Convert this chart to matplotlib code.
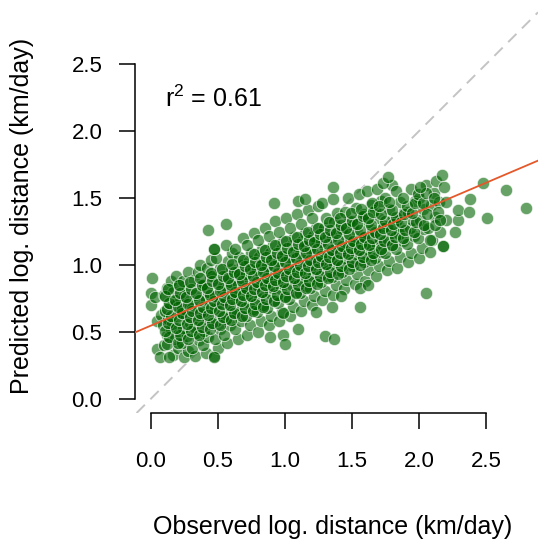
import numpy as np
import matplotlib
matplotlib.use('Agg')
import matplotlib.pyplot as plt

plt.rcParams['font.family'] = ['Liberation Sans', 'DejaVu Sans']

# observed vs predicted log distance in x bands
obs_low = [0.01, 0.00, 0.00, 0.03, 0.05, 0.05, 0.07, 0.08,
           0.10, 0.12, 0.09, 0.13, 0.11, 0.14, 0.10, 0.12, 0.15, 0.15,
           0.17, 0.20, 0.18, 0.21, 0.16, 0.19, 0.22, 0.18, 0.20, 0.17, 0.21, 0.19,
           0.25, 0.28, 0.23, 0.27, 0.24, 0.29, 0.26, 0.23, 0.28, 0.25, 0.27, 0.24, 0.28,
           0.33, 0.31, 0.36, 0.34, 0.32, 0.37, 0.35, 0.31, 0.36, 0.33, 0.38, 0.32, 0.35, 0.37,
           0.41, 0.39, 0.43, 0.40, 0.44, 0.42, 0.39, 0.45, 0.41, 0.43, 0.40, 0.44, 0.42, 0.45,
           0.47, 0.50, 0.48, 0.52, 0.49, 0.53, 0.47, 0.51, 0.48, 0.53, 0.50, 0.46, 0.52, 0.49, 0.47,
           0.57, 0.55, 0.59, 0.56, 0.60, 0.58, 0.55, 0.61, 0.57, 0.59, 0.56, 0.60, 0.58, 0.61, 0.56,
           0.65, 0.63, 0.67, 0.64, 0.68, 0.66, 0.63, 0.69, 0.65, 0.67, 0.64, 0.68, 0.66, 0.63, 0.69]
pred_low = [0.90, 0.79, 0.70, 0.76, 0.58, 0.37, 0.31, 0.63,
            0.40, 0.48, 0.55, 0.60, 0.66, 0.72, 0.78, 0.83, 0.88, 0.52,
            0.33, 0.38, 0.45, 0.50, 0.56, 0.61, 0.65, 0.70, 0.75, 0.80, 0.86, 0.92,
            0.31, 0.36, 0.42, 0.47, 0.53, 0.57, 0.62, 0.67, 0.72, 0.77, 0.82, 0.88, 0.95,
            0.32, 0.38, 0.44, 0.49, 0.54, 0.58, 0.63, 0.68, 0.73, 0.78, 0.84, 0.89, 0.95, 1.00,
            0.34, 0.40, 0.46, 0.51, 0.56, 0.61, 0.65, 0.70, 0.75, 0.80, 0.86, 0.92, 0.98, 1.04,
            0.32, 0.38, 0.45, 0.52, 0.58, 0.63, 0.67, 0.72, 0.77, 0.82, 0.87, 0.92, 0.98, 1.05, 1.12,
            0.42, 0.48, 0.55, 0.60, 0.65, 0.70, 0.74, 0.78, 0.83, 0.87, 0.92, 0.97, 1.03, 1.09, 1.15,
            0.45, 0.52, 0.58, 0.64, 0.69, 0.74, 0.78, 0.82, 0.86, 0.90, 0.95, 1.00, 1.06, 1.12, 1.20]

obs_mid = [0.72, 0.74, 0.71, 0.76, 0.73, 0.75, 0.72, 0.77, 0.74, 0.71, 0.76, 0.73, 0.75, 0.72, 0.77,
           0.80, 0.82, 0.79, 0.84, 0.81, 0.83, 0.80, 0.85, 0.82, 0.79, 0.84, 0.81, 0.83, 0.80, 0.85,
           0.88, 0.90, 0.87, 0.92, 0.89, 0.91, 0.88, 0.93, 0.90, 0.87, 0.92, 0.89, 0.91, 0.88, 0.93,
           0.96, 0.98, 0.95, 1.00, 0.97, 0.99, 0.96, 1.01, 0.98, 0.95, 1.00, 0.97, 0.99, 0.96, 1.01,
           1.04, 1.06, 1.03, 1.08, 1.05, 1.07, 1.04, 1.09, 1.06, 1.03, 1.08, 1.05, 1.07, 1.04, 1.09,
           1.12, 1.14, 1.11, 1.16, 1.13, 1.15, 1.12, 1.17, 1.14, 1.11, 1.16, 1.13, 1.15, 1.12, 1.17,
           1.20, 1.22, 1.19, 1.24, 1.21, 1.23, 1.20, 1.25, 1.22, 1.19, 1.24, 1.21, 1.23, 1.20, 1.25,
           1.28, 1.30, 1.27, 1.32, 1.29, 1.31, 1.28, 1.33, 1.30, 1.27, 1.32, 1.29, 1.31, 1.28]
pred_mid = [0.48, 0.55, 0.62, 0.67, 0.72, 0.77, 0.81, 0.85, 0.89, 0.93, 0.98, 1.03, 1.09, 1.15, 1.24,
            0.50, 0.58, 0.65, 0.70, 0.75, 0.80, 0.84, 0.88, 0.92, 0.96, 1.01, 1.06, 1.12, 1.19, 1.28,
            0.55, 0.62, 0.68, 0.74, 0.79, 0.83, 0.87, 0.91, 0.95, 0.99, 1.04, 1.09, 1.15, 1.22, 1.33,
            0.58, 0.65, 0.72, 0.77, 0.82, 0.86, 0.90, 0.94, 0.98, 1.02, 1.07, 1.12, 1.18, 1.25, 1.35,
            0.62, 0.69, 0.75, 0.80, 0.85, 0.89, 0.93, 0.97, 1.01, 1.05, 1.10, 1.15, 1.21, 1.28, 1.38,
            0.66, 0.73, 0.79, 0.84, 0.88, 0.92, 0.96, 1.00, 1.04, 1.08, 1.13, 1.18, 1.24, 1.31, 1.41,
            0.70, 0.77, 0.83, 0.88, 0.92, 0.96, 1.00, 1.04, 1.08, 1.12, 1.17, 1.22, 1.28, 1.35, 1.44,
            0.74, 0.81, 0.87, 0.92, 0.96, 1.00, 1.04, 1.08, 1.12, 1.17, 1.22, 1.28, 1.35, 1.46]

obs_high = [1.36, 1.38, 1.35, 1.40, 1.37, 1.39, 1.36, 1.41, 1.38, 1.35, 1.40, 1.37, 1.39, 1.36,
            1.44, 1.46, 1.43, 1.48, 1.45, 1.47, 1.44, 1.49, 1.46, 1.43, 1.48, 1.45, 1.47,
            1.52, 1.54, 1.51, 1.56, 1.53, 1.55, 1.52, 1.57, 1.54, 1.51, 1.56, 1.53, 1.55,
            1.60, 1.62, 1.59, 1.64, 1.61, 1.63, 1.60, 1.65, 1.62, 1.59, 1.64, 1.61,
            1.68, 1.70, 1.67, 1.72, 1.69, 1.71, 1.68, 1.73, 1.70, 1.67, 1.72, 1.69,
            1.76, 1.78, 1.75, 1.80, 1.77, 1.79, 1.76, 1.81, 1.78, 1.75, 1.80,
            1.84, 1.86, 1.83, 1.88, 1.85, 1.87, 1.84, 1.89, 1.86, 1.83,
            1.92, 1.94, 1.91, 1.96, 1.93, 1.95, 1.92, 1.97, 1.94,
            2.00, 2.02, 1.99, 2.04, 2.01, 2.03, 2.00, 2.05,
            2.08, 2.10, 2.07, 2.12, 2.09, 2.11, 2.13,
            2.18, 2.16, 2.20, 2.15, 2.19]
pred_high = [0.78, 0.85, 0.91, 0.96, 1.00, 1.04, 1.08, 1.12, 1.16, 1.21, 1.26, 1.32, 1.39, 1.49,
             0.82, 0.89, 0.95, 1.00, 1.05, 1.09, 1.13, 1.17, 1.22, 1.27, 1.33, 1.40, 1.50,
             0.86, 0.93, 0.99, 1.04, 1.08, 1.12, 1.16, 1.20, 1.25, 1.30, 1.36, 1.43, 1.53,
             0.88, 0.96, 1.02, 1.07, 1.12, 1.16, 1.21, 1.26, 1.32, 1.38, 1.45, 1.55,
             0.92, 0.99, 1.05, 1.10, 1.15, 1.19, 1.24, 1.29, 1.35, 1.41, 1.48, 1.57,
             0.96, 1.03, 1.09, 1.14, 1.19, 1.24, 1.29, 1.35, 1.42, 1.50, 1.60,
             0.98, 1.06, 1.12, 1.18, 1.23, 1.28, 1.34, 1.40, 1.47, 1.55,
             1.02, 1.09, 1.16, 1.22, 1.28, 1.34, 1.40, 1.48, 1.57,
             1.05, 1.13, 1.20, 1.27, 1.34, 1.42, 1.50, 1.60,
             1.10, 1.19, 1.28, 1.36, 1.45, 1.54, 1.63,
             1.14, 1.25, 1.34, 1.47, 1.58]

# the dense middle of the band, where points pile up on each other
obs_core = [0.12, 0.14, 0.11, 0.13, 0.15, 0.12, 0.14, 0.11, 0.13,
            0.20, 0.22, 0.19, 0.21, 0.23, 0.20, 0.18, 0.22, 0.21,
            0.28, 0.30, 0.27, 0.29, 0.31, 0.28, 0.26, 0.30, 0.29,
            0.36, 0.38, 0.35, 0.37, 0.39, 0.36, 0.34, 0.38, 0.37,
            0.44, 0.46, 0.43, 0.45, 0.47, 0.44, 0.42, 0.46, 0.45,
            0.52, 0.54, 0.51, 0.53, 0.55, 0.52, 0.50, 0.54, 0.53,
            0.60, 0.62, 0.59, 0.61, 0.63, 0.60, 0.58, 0.62, 0.61,
            0.68, 0.70, 0.67, 0.69, 0.71, 0.68, 0.66, 0.70, 0.69,
            0.76, 0.78, 0.75, 0.77, 0.79, 0.76, 0.74, 0.78, 0.77,
            0.84, 0.86, 0.83, 0.85, 0.87, 0.84, 0.82, 0.86, 0.85,
            0.92, 0.94, 0.91, 0.93, 0.95, 0.92, 0.90, 0.94, 0.93,
            1.00, 1.02, 0.99, 1.01, 1.03, 1.00, 0.98, 1.02, 1.01,
            1.08, 1.10, 1.07, 1.09, 1.11, 1.08, 1.06, 1.10, 1.09,
            1.16, 1.18, 1.15, 1.17, 1.19, 1.16, 1.14, 1.18, 1.17,
            1.24, 1.26, 1.23, 1.25, 1.27, 1.24, 1.22, 1.26, 1.25,
            1.32, 1.34, 1.31, 1.33, 1.35, 1.32, 1.30, 1.34, 1.33,
            1.40, 1.42, 1.39, 1.41, 1.43, 1.40, 1.38, 1.42, 1.41,
            1.48, 1.50, 1.47, 1.49, 1.51, 1.48, 1.46, 1.50, 1.49,
            1.56, 1.58, 1.55, 1.57, 1.59, 1.56, 1.54, 1.58, 1.57,
            1.64, 1.66, 1.63, 1.65, 1.67, 1.64, 1.62, 1.66, 1.65,
            1.72, 1.74, 1.71, 1.73, 1.75, 1.72, 1.70,
            1.80, 1.82, 1.79, 1.81, 1.83, 1.80, 1.78,
            1.88, 1.90, 1.87, 1.89, 1.91, 1.88,
            1.96, 1.98, 1.95, 1.97, 1.99,
            2.04, 2.06, 2.03, 2.05,
            2.12, 2.14, 2.11]
pred_core = [0.41, 0.46, 0.51, 0.57, 0.62, 0.67, 0.72, 0.77, 0.82,
             0.42, 0.48, 0.53, 0.59, 0.64, 0.69, 0.74, 0.79, 0.85,
             0.45, 0.51, 0.56, 0.61, 0.66, 0.71, 0.76, 0.82, 0.87,
             0.48, 0.54, 0.59, 0.64, 0.69, 0.74, 0.79, 0.85, 0.90,
             0.52, 0.57, 0.63, 0.68, 0.73, 0.78, 0.83, 0.88, 0.94,
             0.55, 0.61, 0.66, 0.71, 0.76, 0.81, 0.86, 0.92, 0.97,
             0.59, 0.64, 0.70, 0.75, 0.80, 0.85, 0.90, 0.95, 1.01,
             0.62, 0.68, 0.73, 0.78, 0.83, 0.88, 0.93, 0.99, 1.04,
             0.66, 0.71, 0.77, 0.82, 0.87, 0.92, 0.97, 1.02, 1.08,
             0.69, 0.75, 0.80, 0.85, 0.90, 0.95, 1.00, 1.06, 1.11,
             0.73, 0.78, 0.84, 0.89, 0.94, 0.99, 1.04, 1.09, 1.15,
             0.76, 0.82, 0.87, 0.92, 0.97, 1.02, 1.07, 1.13, 1.18,
             0.79, 0.85, 0.90, 0.95, 1.00, 1.05, 1.10, 1.16, 1.21,
             0.83, 0.88, 0.94, 0.99, 1.04, 1.09, 1.14, 1.19, 1.25,
             0.86, 0.92, 0.97, 1.02, 1.07, 1.12, 1.17, 1.23, 1.28,
             0.90, 0.95, 1.01, 1.06, 1.11, 1.16, 1.21, 1.26, 1.32,
             0.93, 0.99, 1.04, 1.09, 1.14, 1.19, 1.24, 1.30, 1.35,
             0.97, 1.02, 1.08, 1.13, 1.18, 1.23, 1.28, 1.33, 1.39,
             1.00, 1.06, 1.11, 1.16, 1.21, 1.26, 1.31, 1.37, 1.42,
             1.04, 1.09, 1.15, 1.20, 1.25, 1.30, 1.35, 1.40, 1.46,
             1.12, 1.18, 1.23, 1.28, 1.33, 1.38, 1.44,
             1.15, 1.21, 1.26, 1.31, 1.36, 1.41, 1.47,
             1.20, 1.26, 1.32, 1.38, 1.44, 1.50,
             1.25, 1.32, 1.39, 1.46, 1.53,
             1.30, 1.38, 1.46, 1.54,
             1.30, 1.40, 1.50]

# scattered points away from the main band
obs_out = [0.14, 0.43, 0.56, 0.47, 0.92, 1.10, 1.15, 1.36, 1.73, 1.77,
           0.47, 0.89, 0.99, 1.00, 1.10, 1.30, 1.37, 0.99, 1.23, 1.35,
           1.42, 1.56, 1.56, 1.62, 2.05, 2.17, 2.27, 2.29, 2.29, 2.37,
           2.38, 2.48, 2.51, 2.65, 2.80, 2.20, 2.16, 2.18, 2.08, 2.01]
pred_out = [0.31, 1.26, 1.31, 1.12, 1.46, 1.48, 1.49, 1.58, 1.61, 1.66,
            0.31, 0.46, 0.48, 0.41, 0.52, 0.47, 0.45, 0.64, 0.65, 0.69,
            0.77, 0.69, 0.83, 0.85, 0.79, 1.67, 1.25, 1.34, 1.41, 1.40,
            1.49, 1.61, 1.35, 1.56, 1.43, 1.47, 1.34, 1.14, 1.19, 1.58]

fit_intercept = 0.547
fit_slope = 0.427
r2 = 0.61

ticks = [0.0, 0.5, 1.0, 1.5, 2.0, 2.5]
tick_labels = ['0.0', '0.5', '1.0', '1.5', '2.0', '2.5']

obs = np.array(obs_low + obs_mid + obs_high + obs_core + obs_out)
pred = np.array(pred_low + pred_mid + pred_high + pred_core + pred_out)

fig = plt.figure(figsize=(5.38, 5.49), dpi=100)
ax = fig.add_axes([135/538, 136/549, 403/538, 413/549])

ax.axline((0, 0), slope=1, color='#c4c4c4', lw=1.4, dashes=(6, 4), zorder=1)
ax.scatter(obs, pred, s=78, facecolor=(0, 0.39, 0, 0.6),
           edgecolor=(1, 1, 1, 0.7), linewidth=0.6, zorder=2)
ax.axline((0, fit_intercept), slope=fit_slope, color='#e5582a', lw=1.3, zorder=3)

ax.text(0.107, 2.18, r'$\mathregular{r^2}$ = %.2f' % r2, fontsize=18, va='baseline')

ax.set_xlim(-0.117, 2.888)
ax.set_ylim(-0.105, 2.98)

for s in ['top', 'right']:
    ax.spines[s].set_visible(False)
ax.spines['left'].set_bounds(0, 2.5)
ax.spines['bottom'].set_bounds(0, 2.5)
for s in ['left', 'bottom']:
    ax.spines[s].set_linewidth(1.1)

ax.set_xticks(ticks)
ax.set_xticklabels(tick_labels)
ax.set_yticks(ticks)
ax.set_yticklabels(tick_labels)
ax.tick_params(axis='both', length=11.5, width=1.1, labelsize=16)
ax.tick_params(axis='x', pad=16)
ax.tick_params(axis='y', pad=12)

fig.text(333/538, 1 - 527/549, 'Observed log. distance (km/day)', fontsize=18,
         ha='center', va='center')
fig.text(22/538, 1 - 216/549, 'Predicted log. distance (km/day)', fontsize=18,
         ha='center', va='center', rotation=90)

fig.savefig('out.png', dpi=100)
